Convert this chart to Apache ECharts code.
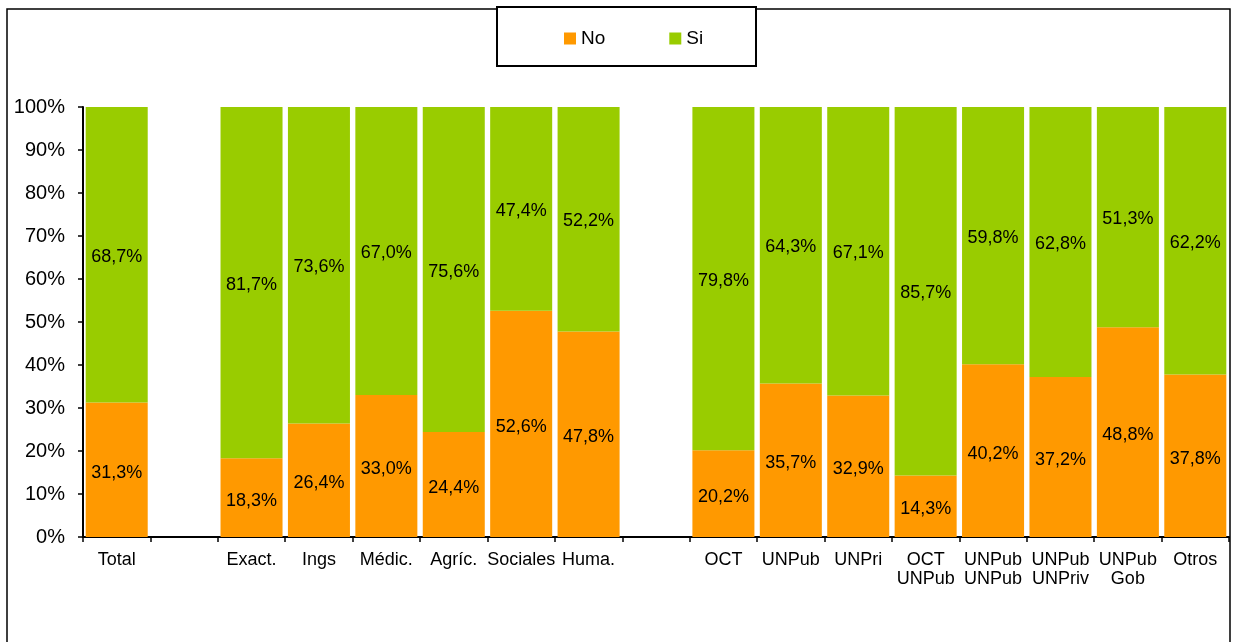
<!DOCTYPE html>
<html>
<head>
<meta charset="utf-8">
<script src="https://cdn.jsdelivr.net/npm/echarts@6/dist/echarts.min.js"></script>
<style>
  html, body { margin: 0; padding: 0; background: #fff; }
  #chart { width: 1234px; height: 642px; }
</style>
</head>
<body>
<div id="chart"></div>
<script>
// categorias (las vacias son los huecos entre grupos)
const categories = ['Total', '', 'Exact.', 'Ings', 'Médic.', 'Agríc.', 'Sociales', 'Huma.', '',
  'OCT', 'UNPub', 'UNPri', 'OCT\nUNPub', 'UNPub\nUNPub', 'UNPub\nUNPriv', 'UNPub\nGob', 'Otros'];
const noValues = [31.3, null, 18.3, 26.4, 33.0, 24.4, 52.6, 47.8, null,
  20.2, 35.7, 32.9, 14.3, 40.2, 37.2, 48.8, 37.8];
const siValues = [68.7, null, 81.7, 73.6, 67.0, 75.6, 47.4, 52.2, null,
  79.8, 64.3, 67.1, 85.7, 59.8, 62.8, 51.3, 62.2];
const yTicks = [0, 10, 20, 30, 40, 50, 60, 70, 80, 90, 100];

const fontFam = '"Liberation Sans", Arial, sans-serif';
const fmt = (p) => p.value == null ? '' : p.value.toFixed(1).replace('.', ',') + '%';

const chart = echarts.init(document.getElementById('chart'));
chart.setOption({
  animation: false,
  textStyle: { fontFamily: fontFam, color: '#000' },
  grid: { left: 83, right: 5, top: 107, bottom: 105 },
  legend: {
    left: 559, top: 24,
    itemWidth: 12, itemHeight: 12, itemGap: 64,
    icon: 'rect',
    textStyle: { fontSize: 19, color: '#000' },
    data: ['No', 'Si']
  },
  graphic: [
    { type: 'rect', shape: { x: 7, y: 9, width: 1223, height: 660 },
      style: { fill: 'none', stroke: '#000', lineWidth: 1.5 }, z: 0 },
    { type: 'rect', shape: { x: 497, y: 7, width: 259, height: 59 },
      style: { fill: '#fff', stroke: '#000', lineWidth: 2 }, z: 1 }
  ],
  xAxis: {
    type: 'category',
    data: categories,
    axisLine: { lineStyle: { color: '#000', width: 2 } },
    axisTick: { show: true, length: 5, lineStyle: { color: '#000', width: 1.5 } },
    axisLabel: { interval: 0, fontSize: 18, color: '#000', margin: 14, lineHeight: 19 }
  },
  yAxis: {
    type: 'value',
    min: 0, max: 100, interval: 10,
    axisLine: { show: true, lineStyle: { color: '#000', width: 2 } },
    axisTick: { show: true, length: 5, lineStyle: { color: '#000', width: 1.5 } },
    splitLine: { show: false },
    axisLabel: {
      fontSize: 20, color: '#000', margin: 18,
      formatter: (v) => yTicks.includes(v) ? v + '%' : ''
    }
  },
  series: [
    {
      name: 'No', type: 'bar', stack: 'total', data: noValues,
      barCategoryGap: '8%',
      itemStyle: { color: '#FF9900' },
      label: { show: true, position: 'inside', offset: [0, 3], fontSize: 18, color: '#000', formatter: fmt }
    },
    {
      name: 'Si', type: 'bar', stack: 'total', data: siValues,
      barCategoryGap: '8%',
      itemStyle: { color: '#99CC00' },
      label: { show: true, position: 'inside', offset: [0, 2], fontSize: 18, color: '#000', formatter: fmt }
    }
  ]
});
</script>
</body>
</html>
